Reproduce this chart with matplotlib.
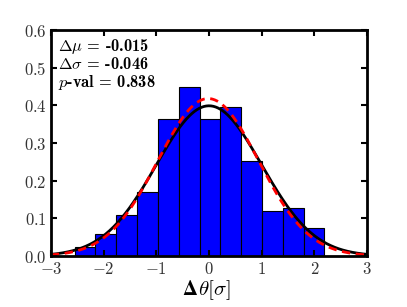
import numpy as np
import matplotlib
matplotlib.use('Agg')
import matplotlib.pyplot as plt
from matplotlib.ticker import FuncFormatter

plt.rcParams['mathtext.fontset'] = 'cm'

# histogram
bin_edges = [-2.55, -2.155, -1.76, -1.365, -0.97, -0.575, -0.18, 0.215, 0.61, 1.005, 1.40, 1.795, 2.19]
heights = [0.025, 0.058, 0.110, 0.169, 0.364, 0.448, 0.364, 0.397, 0.253, 0.120, 0.127, 0.075]

mu_fit = -0.015
sig_fit = 1 - 0.046
labels = [r'$\Delta\mu$ = -0.015', r'$\Delta\sigma$ = -0.046', r'$p$-val = 0.838']

x = np.linspace(-3, 3, 400)
gauss_ref = np.exp(-x**2 / 2) / np.sqrt(2 * np.pi)
gauss_fit = np.exp(-(x - mu_fit)**2 / (2 * sig_fit**2)) / (np.sqrt(2 * np.pi) * sig_fit)

fig = plt.figure(figsize=(4.07, 3.07), dpi=100)
ax = fig.add_axes([0.125, 0.166, 0.777, 0.736])

widths = np.diff(bin_edges)
ax.bar(bin_edges[:-1], heights, width=widths, align='edge', color='#0000ff',
       edgecolor='black', linewidth=0.8)
ax.plot(x, gauss_ref, color='black', lw=2)
ax.plot(x, gauss_fit, color='red', lw=2, ls='--', dashes=(3, 2))

ax.set_xlim(-3, 3)
ax.set_ylim(0, 0.6)
ax.set_xticks([-3, -2, -1, 0, 1, 2, 3])
ax.set_yticks([0.0, 0.1, 0.2, 0.3, 0.4, 0.5, 0.6])
ax.xaxis.set_major_formatter(FuncFormatter(lambda v, p: r'$%d$' % v))
ax.yaxis.set_major_formatter(FuncFormatter(lambda v, p: r'$%.1f$' % v))
ax.tick_params(direction='in', length=4, width=1.5, top=True, right=True,
               labelsize=12, labelcolor='#333333', pad=3)
for s in ax.spines.values():
    s.set_linewidth(2)

# x label: bold Delta + theta[sigma]
ax.text(0.465, -0.173, r'$\mathbf{\Delta}$', transform=ax.transAxes, fontsize=15,
        ha='right', va='baseline', math_fontfamily='stix')
ax.text(0.465, -0.173, r'$\theta[\sigma]$', transform=ax.transAxes, fontsize=15,
        ha='left', va='baseline')

ys = [0.907, 0.827, 0.748]
for lab, yy in zip(labels, ys):
    ax.text(0.024, yy, lab, transform=ax.transAxes, fontsize=11.8, va='baseline',
            family='cmb10')

fig.savefig('out.png', dpi=100)
